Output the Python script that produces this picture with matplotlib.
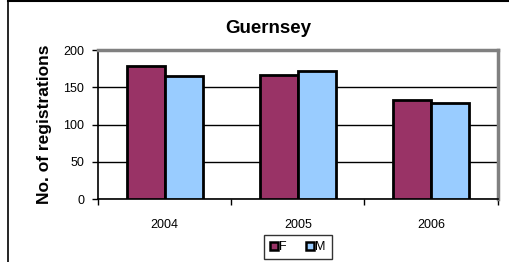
import matplotlib.pyplot as plt
import numpy as np
from matplotlib.lines import Line2D

plt.rcParams['font.family'] = ['Liberation Sans', 'DejaVu Sans']

years = ['2004', '2005', '2006']
female = [178, 167, 133]
male = [165, 172, 129]

fig = plt.figure(figsize=(5.1, 2.62), dpi=100)
ax = fig.add_axes([0.192, 0.240, 0.784, 0.569])

x = np.arange(len(years))
w = 0.285
ax.bar(x - w / 2, female, w, color='#993366', edgecolor='black', linewidth=2, label='F', zorder=3)
ax.bar(x + w / 2, male, w, color='#99CCFF', edgecolor='black', linewidth=2, label='M', zorder=3)

ax.set_xlim(-0.5, 2.5)
ax.set_ylim(0, 200)
ax.set_yticks([0, 50, 100, 150, 200])
ax.yaxis.grid(True, color='black', linewidth=1, zorder=0)
ax.set_axisbelow(True)

ax.set_xticks(x)
ax.set_xticklabels(years)
ax.set_xticks([-0.5, 0.5, 1.5, 2.5], minor=True)
ax.tick_params(axis='x', which='major', length=0, pad=14, labelsize=9)
ax.tick_params(axis='x', which='minor', length=4, width=1, direction='out')
ax.tick_params(axis='y', length=4, width=1, direction='out', labelsize=9, pad=6)

for side in ['top', 'right']:
    ax.spines[side].set_color('#808080')
    ax.spines[side].set_linewidth(2.5)
for side in ['left', 'bottom']:
    ax.spines[side].set_color('black')
    ax.spines[side].set_linewidth(1.2)

ax.set_ylabel('No. of registrations', fontsize=12.5, fontweight='bold', labelpad=8)
fig.text(0.526, 0.893, 'Guernsey', ha='center', va='center', fontsize=13.5, fontweight='bold')

handles = [
    Line2D([], [], marker='s', linestyle='none', markersize=6, markerfacecolor='#993366',
           markeredgecolor='black', markeredgewidth=1.8, label='F'),
    Line2D([], [], marker='s', linestyle='none', markersize=6, markerfacecolor='#99CCFF',
           markeredgecolor='black', markeredgewidth=1.8, label='M'),
]
leg = fig.legend(handles=handles, loc='center', bbox_to_anchor=(0.584, 0.057), ncol=2,
                 fontsize=9, frameon=True, fancybox=False, edgecolor='black',
                 handlelength=0.6, handletextpad=0.15, columnspacing=1.5,
                 borderpad=0.5)
leg.get_frame().set_linewidth(1)

# outer chart border (left and top)
fig.add_artist(Line2D([8 / 510, 8 / 510], [0, 1 - 1 / 262], color='black', linewidth=1.2))
fig.add_artist(Line2D([8 / 510, 1], [1 - 1 / 262, 1 - 1 / 262], color='black', linewidth=1.5))

fig.savefig('out.png', dpi=100)
